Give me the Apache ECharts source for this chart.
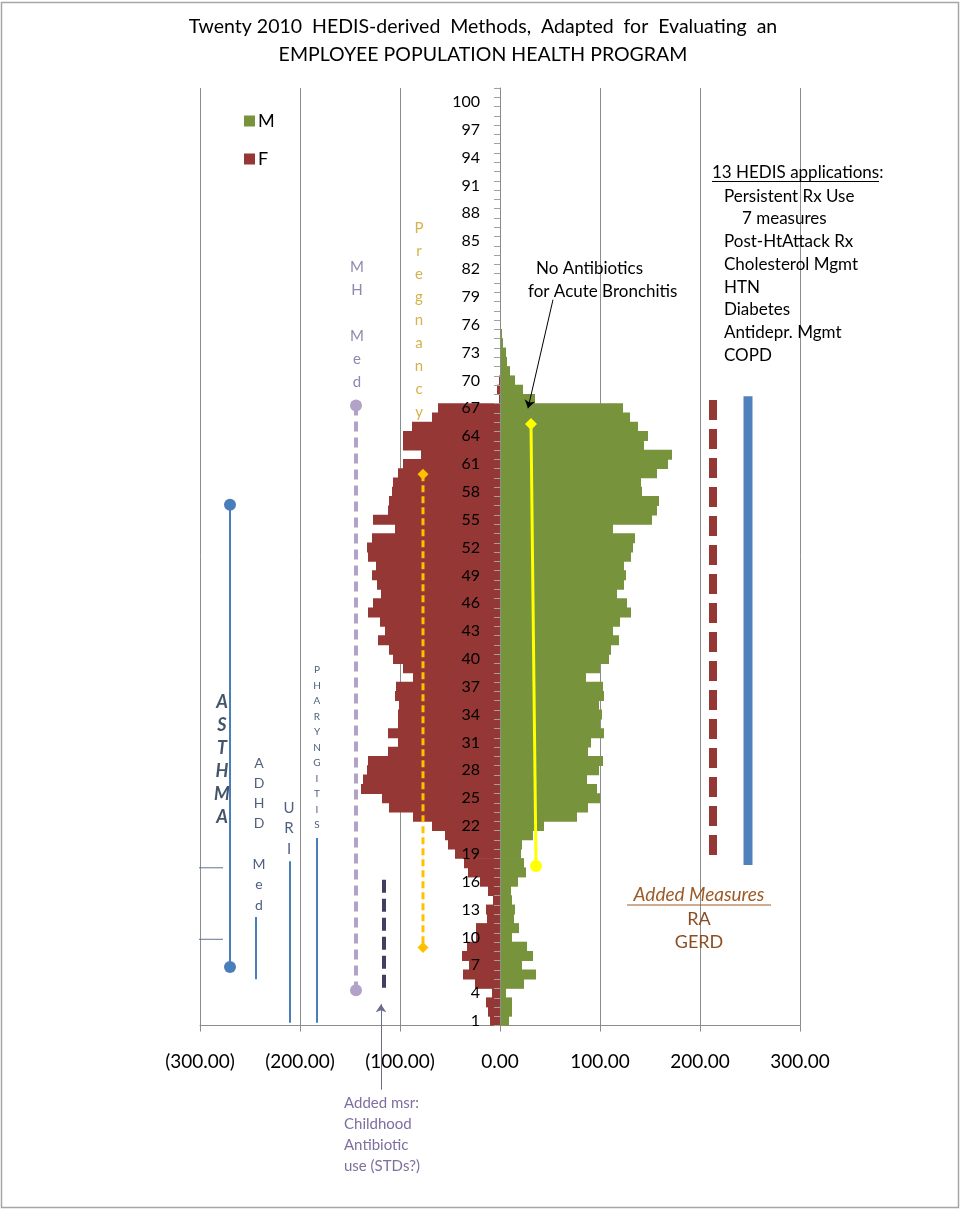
<!DOCTYPE html>
<html><head><meta charset="utf-8">
<script src="https://cdn.jsdelivr.net/npm/echarts@6/dist/echarts.min.js"></script>
<style>html,body{margin:0;padding:0;background:#fff}#c{width:962px;height:1211px}</style>
</head><body><div id="c"></div>
<script>
// ---- data ----
const ageCategories = Array.from({length: 101}, (_, i) => String(i + 1));
const femaleValues = [
 -10,-12,-14,-8,-25,-37,-31,-38,-33,-24,
 -24,-13,-14,-7,-12,-20,-32,-36,-45,-52,
 -55,-68,-87,-111,-118,-139,-137,-133,-132,-112,
 -102,-112,-102,-102,-101,-105,-104,-87,-97,-107,
 -111,-122,-115,-120,-132,-127,-119,-123,-128,-124,
 -132,-133,-128,-105,-127,-112,-111,-108,-107,-102,
 -97,-79,-97,-97,-88,-68,-62,-1,-3,-1,
 0,0,0,0,0,0,0,0,0,0,
 0,0,0,0,0,0,0,0,0,0,
 0,0,0,0,0,0,0,0,0,0,
 0];
const maleValues = [
 9,12,12,6,24,36,22,33,27,12,
 19,14,15,12,11,18,26,24,21,22,
 33,44,77,88,100,97,87,99,103,88,
 91,104,100,102,99,104,103,86,100,109,
 111,119,113,120,131,127,117,124,126,124,
 131,133,135,113,152,157,159,142,141,157,
 168,172,144,148,138,130,123,35,23,15,
 10,7,6,3,2,1,1,0,0,0,
 0,0,0,0,0,0,0,0,0,0,
 0,0,0,0,0,0,0,0,0,0,
 0];
const xTicks = [-300, -200, -100, 0, 100, 200, 300];
const seriesNames = ['M', 'F'];

// overlay spans: [xValue, age]
const pregnancySpan = [[-77, 59.9], [-77, 8.9]];
const mhMedSpan = [[-144, 67.3], [-144, 4.3]];
const asthmaSpan = [[-270, 56.6], [-270, 6.8]];
const asthmaMarkA = [[-303, 17.5], [-277, 17.5]];
const asthmaMarkB = [[-308, 9.8], [-277, 9.8]];
const adhdSpan = [[-244, 12.2], [-244, 5.5]];
const uriSpan = [[-210, 18.2], [-210, 0.8]];
const pharyngitisSpan = [[-183, 20.7], [-183, 0.8]];
const childAbxSpan = [[-116, 16.2], [-116, 4.2]];
const bronchitisSpan = [[31, 65.3], [36, 17.7]];
const addedMeasuresSpan = [[213, 67.9], [213, 18.1]];
const hedisSpan = [[248, 68.3], [248, 17.8]];
const bronchitisArrow = [[53, 78.7], [28, 67.0]];
const childAbxArrow = [[-119, -6.4], [-119, 2.8]];

// ---- chart ----
const chart = echarts.init(document.getElementById('c'), null, {renderer: 'canvas'});
const FONT = 'Lato, "Open Sans", sans-serif';

function seg(data, color, width, type, symbols, symbolSize) {
  return {
    type: 'line', xAxisIndex: 0, yAxisIndex: 1, silent: true, z: 5,
    data: data.map((p, i) => ({value: p, symbol: symbols ? symbols[i] : 'none'})),
    symbolSize: symbolSize || 0, showSymbol: true,
    lineStyle: {color: color, width: width, type: type, cap: 'butt'},
    itemStyle: {color: color}, emphasis: {disabled: true}
  };
}
function arrow(data, color) {
  return {
    type: 'lines', coordinateSystem: 'cartesian2d', xAxisIndex: 0, yAxisIndex: 1,
    silent: true, z: 6, clip: false,
    symbol: ['none', 'arrow'], symbolSize: [0, 8],
    lineStyle: {color: color, width: 1, opacity: 1},
    data: [{coords: data}]
  };
}
function vtext(letters, x, yFirst, step, font, fill) {
  return {type: 'text', silent: true, z: 20, style: {
    text: letters.join('\n'), x: x, y: yFirst - step / 2,
    textAlign: 'center', textVerticalAlign: 'top', lineHeight: step, font: font, fill: fill}};
}
function htext(t, x, y, font, fill, align) {
  return {type: 'text', silent: true, z: 20, style: {
    text: t, x: x, y: y, textAlign: align || 'left', textVerticalAlign: 'middle', font: font, fill: fill}};
}
function hline(x1, x2, y, color) {
  return {type: 'line', silent: true, z: 20, shape: {x1: x1, y1: y, x2: x2, y2: y}, style: {stroke: color, lineWidth: 1}};
}

const fmt = v => v < 0 ? '(' + Math.abs(v).toFixed(2) + ')' : v.toFixed(2);
const ANN = '17px ' + FONT;

const option = {
  animation: false,
  backgroundColor: '#fff',
  grid: {left: 200, right: 162, top: 88, bottom: 185.4, containLabel: false},
  legend: {
    data: seriesNames, orient: 'vertical', left: 239, top: 106,
    itemWidth: 11, itemHeight: 11, itemGap: 18, icon: 'rect',
    textStyle: {fontFamily: FONT, fontSize: 18, color: '#000', lineHeight: 20, padding: [0, 0, 0, -2]}
  },
  xAxis: {
    type: 'value', min: xTicks[0], max: xTicks[xTicks.length - 1], interval: 100,
    axisLine: {show: true, onZero: false, lineStyle: {color: '#8C8C8C'}},
    axisTick: {show: true, length: 6, lineStyle: {color: '#8C8C8C'}},
    splitLine: {show: true, lineStyle: {color: '#8C8C8C', width: 1}},
    axisLabel: {formatter: fmt, fontFamily: FONT, fontSize: 19, color: '#000', margin: 27}
  },
  yAxis: [{
    type: 'category', data: ageCategories, z: 8, position: 'left', offset: -300,
    axisLine: {show: true, onZero: false, lineStyle: {color: '#8C8C8C'}},
    axisTick: {show: true, interval: 0, length: 6, lineStyle: {color: '#A0A0A0'}},
    axisLabel: {interval: 2, fontFamily: FONT, fontSize: 16, color: '#000', margin: 20},
    splitLine: {show: false}
  }, {
    type: 'value', min: 0.5, max: 101.5, show: false
  }],
  series: [
    {name: 'M', type: 'bar', data: maleValues, barWidth: 10, barGap: '-100%',
     itemStyle: {color: '#77933C'}, silent: true},
    {name: 'F', type: 'bar', data: femaleValues, barWidth: 10, barGap: '-100%',
     itemStyle: {color: '#953735'}, silent: true},
    seg(addedMeasuresSpan, '#953735', 8, [20, 9]),
    seg(hedisSpan, '#4F81BD', 9, 'solid'),
    seg(asthmaSpan, '#4A7EBB', 2, 'solid', ['circle', 'circle'], 12),
    seg(asthmaMarkA, '#5F7391', 1, 'solid'),
    seg(asthmaMarkB, '#5F7391', 1, 'solid'),
    seg(adhdSpan, '#4A7EBB', 2, 'solid'),
    seg(uriSpan, '#4A7EBB', 2, 'solid'),
    seg(pharyngitisSpan, '#4A7EBB', 2, 'solid'),
    seg(mhMedSpan, '#B3A2C7', 4, [10, 6], ['circle', 'circle'], 12),
    seg(childAbxSpan, '#3F3F5F', 4, [13, 6]),
    seg(pregnancySpan, '#FFC000', 3, [7, 4], ['diamond', 'diamond'], 11),
    seg(bronchitisSpan, '#FFFF00', 3, 'solid', ['diamond', 'circle'], 12),
    arrow(bronchitisArrow, '#000'),
    arrow(childAbxArrow, '#6B6B8B')
  ],
  graphic: [
    {type: 'rect', silent: true, z: 0, shape: {x: 1.5, y: 2.5, width: 957, height: 1205},
     style: {fill: 'none', stroke: '#A6A6A6', lineWidth: 1.5}},
    htext('Twenty 2010  HEDIS-derived  Methods,  Adapted  for  Evaluating  an', 483, 27, '19.5px ' + FONT, '#000', 'center'),
    htext('EMPLOYEE POPULATION HEALTH PROGRAM', 483, 55, '19.5px ' + FONT, '#000', 'center'),
    vtext(['P','r','e','g','n','a','n','c','y'], 419, 228, 23, '15px ' + FONT, '#D6B24C'),
    vtext(['M','H','','M','e','d'], 357, 267, 23, '15px ' + FONT, '#8C8AAE'),
    vtext(['A','S','T','H','M','A'], 222, 702, 23, 'italic bold 18px ' + FONT, '#44546A'),
    vtext(['A','D','H','D','','M','e','d'], 259, 763, 20.3, '14px ' + FONT, '#4F5F7F'),
    vtext(['U','R','I'], 289, 808, 20.5, '15px ' + FONT, '#4F5F7F'),
    vtext(['P','H','A','R','Y','N','G','I','T','I','S'], 317, 670, 15.5, '10px ' + FONT, '#4F5F7F'),
    htext('No Antibiotics', 536, 269, ANN, '#000'),
    htext('for Acute Bronchitis', 528, 292, ANN, '#000'),
    htext('13 HEDIS applications:', 712, 173, ANN, '#000'),
    hline(712, 879, 181.5, '#000'),
    htext('Persistent Rx Use', 724, 197, ANN, '#000'),
    htext('7 measures', 742, 219, ANN, '#000'),
    htext('Post-HtAttack Rx', 724, 242, ANN, '#000'),
    htext('Cholesterol Mgmt', 724, 265, ANN, '#000'),
    htext('HTN', 724, 288, ANN, '#000'),
    htext('Diabetes', 724, 310, ANN, '#000'),
    htext('Antidepr. Mgmt', 724, 333, ANN, '#000'),
    htext('COPD', 724, 356, ANN, '#000'),
    htext('Added Measures', 699, 895, 'italic 19px ' + FONT, '#9C5A26', 'center'),
    hline(627, 771, 905, '#9C5A26'),
    htext('RA', 699, 919, '18px ' + FONT, '#8A4E22', 'center'),
    htext('GERD', 699, 942, '18px ' + FONT, '#8A4E22', 'center'),
    htext('Added msr:', 344, 1103, '15px ' + FONT, '#7F6F9F'),
    htext('Childhood', 344, 1124, '15px ' + FONT, '#7F6F9F'),
    htext('Antibiotic', 344, 1145, '15px ' + FONT, '#7F6F9F'),
    htext('use (STDs?)', 344, 1166, '15px ' + FONT, '#7F6F9F')
  ]
};
chart.setOption(option);
</script></body></html>
